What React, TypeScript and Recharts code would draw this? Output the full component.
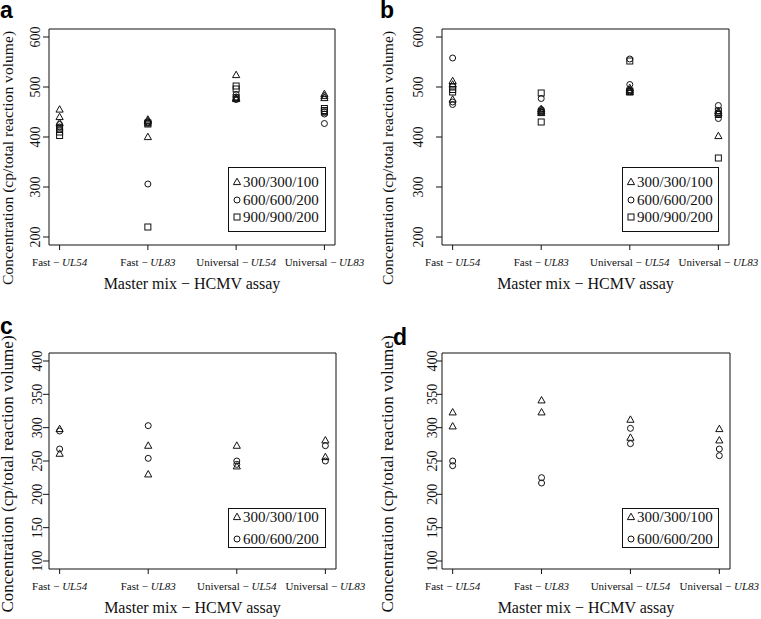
import { ScatterChart, Scatter, XAxis, YAxis, ReferenceArea, Legend } from "recharts";

// x categories: master mix + HCMV assay
const mixes = ["Fast", "Fast", "Universal", "Universal"];
const assays = ["UL54", "UL83", "UL54", "UL83"];
const seriesNames = ["300/300/100", "600/600/200", "900/900/200"];

const yTicksTop = [200, 300, 400, 500, 600];
const yTicksBottom = [100, 150, 200, 250, 300, 350, 400];

// panel a
const a300 = [[455, 440, 428], [435, 432, 400], [524, 478, 476], [486, 482, 478]];
const a600 = [[425, 420, 415], [430, 306, 428], [485, 480, 475], [450, 446, 427]];
const a900 = [[418, 410, 403], [428, 220, 426], [502, 496, 478], [457, 453, 450]];

// panel b
const b300 = [[512, 505, 475], [456, 452, 448], [498, 494, 490], [452, 448, 402]];
const b600 = [[558, 470, 465], [477, 455, 450], [556, 505, 492], [463, 447, 437]];
const b900 = [[500, 490, 495], [488, 450, 430], [552, 492, 490], [452, 445, 358]];

// panel c
const c300 = [[298, 261], [273, 230], [273, 242], [281, 256]];
const c600 = [[295, 268], [303, 254], [250, 245], [273, 250]];

// panel d
const d300 = [[323, 302], [341, 323], [312, 285], [298, 281]];
const d600 = [[250, 243], [225, 217], [299, 276], [268, 258]];

const SERIF = '"Liberation Serif", "Times New Roman", serif';
const shapes = ["triangle", "circle", "square"];

function toPoints(groups: number[][]) {
  return groups.flatMap((vals, i) => vals.map((v) => ({ x: i + 1, y: v })));
}

function Marker({ kind, cx, cy }: { kind: string; cx: number; cy: number }) {
  if (kind === "triangle") {
    return (
      <polygon
        points={`${cx},${cy - 3.8} ${cx - 3.6},${cy + 2.6} ${cx + 3.6},${cy + 2.6}`}
        fill="none"
        stroke="#111"
        strokeWidth={1}
      />
    );
  }
  if (kind === "square") {
    return <rect x={cx - 3} y={cy - 3} width={6} height={6} fill="none" stroke="#111" strokeWidth={1} />;
  }
  return <circle cx={cx} cy={cy} r={3} fill="none" stroke="#111" strokeWidth={1} />;
}

interface PanelConfig {
  letter: string;
  ox: number;
  oy: number;
  h: number;
  box: { l: number; r: number; t: number; b: number };
  yDomain: [number, number];
  yTicks: number[];
  yTickGap: number;
  series: number[][][];
  legend: { l: number; t: number; w: number; h: number; rows: number[] };
  letterPos: [number, number];
  yLabelX: number;
  yLabelMid: number;
  yLabelSize: number;
  xLabelY: number;
}

const panels: PanelConfig[] = [
  {
    letter: "a", ox: 0, oy: 0, h: 309,
    box: { l: 49, r: 335, t: 29, b: 245 },
    yDomain: [184, 616], yTicks: yTicksTop, yTickGap: 9,
    series: [a300, a600, a900],
    legend: { l: 228, t: 167, w: 98, h: 65, rows: [15, 33, 50] },
    letterPos: [0, 18], yLabelX: 13, yLabelMid: 158, yLabelSize: 15.6, xLabelY: 289,
  },
  {
    letter: "b", ox: 380, oy: 0, h: 309,
    box: { l: 442, r: 729, t: 29, b: 245 },
    yDomain: [184, 616], yTicks: yTicksTop, yTickGap: 19,
    series: [b300, b600, b900],
    legend: { l: 622, t: 167, w: 97, h: 65, rows: [15, 33, 50] },
    letterPos: [380, 18], yLabelX: 393, yLabelMid: 158, yLabelSize: 15.6, xLabelY: 289,
  },
  {
    letter: "c", ox: 0, oy: 309, h: 310,
    box: { l: 49, r: 336, t: 353, b: 569 },
    yDomain: [88, 412], yTicks: yTicksBottom, yTickGap: 7,
    series: [c300, c600],
    legend: { l: 228, t: 508, w: 98, h: 40, rows: [9, 31] },
    letterPos: [0, 334], yLabelX: 13, yLabelMid: 474, yLabelSize: 17, xLabelY: 613,
  },
  {
    letter: "d", ox: 380, oy: 309, h: 310,
    box: { l: 442, r: 730, t: 353, b: 569 },
    yDomain: [88, 412], yTicks: yTicksBottom, yTickGap: 5,
    series: [d300, d600],
    legend: { l: 622, t: 508, w: 97, h: 40, rows: [9, 31] },
    letterPos: [393, 345], yLabelX: 393, yLabelMid: 474, yLabelSize: 17, xLabelY: 613,
  },
];

function Panel({ p }: { p: PanelConfig }) {
  const W = 380;
  const bl = p.box.l - p.ox;
  const br = p.box.r - p.ox;
  const bb = p.box.b - p.oy;
  const bt = p.box.t - p.oy;
  const xDomain: [number, number] = [0.88, 4.12];
  const yMid = p.yLabelMid - p.oy;

  const xTick = (props: any) => {
    const i = props.payload.value - 1;
    return (
      <text x={props.x} y={bb + 21} textAnchor="middle" fontFamily={SERIF} fontSize={11} fill="#111">
        <tspan>{mixes[i]} − </tspan>
        <tspan fontStyle="italic">{assays[i]}</tspan>
      </text>
    );
  };

  const yTick = (props: any) => {
    const x = bl - p.yTickGap;
    return (
      <text
        x={x}
        y={props.y}
        transform={`rotate(-90, ${x}, ${props.y})`}
        textAnchor="middle"
        fontFamily={SERIF}
        fontSize={14}
        fill="#111"
      >
        {props.payload.value}
      </text>
    );
  };

  const yTitle = () => {
    const x = p.yLabelX - p.ox;
    return (
      <g>
        <text
          x={p.letterPos[0] - p.ox}
          y={p.letterPos[1] - p.oy}
          fontFamily='"Liberation Sans", Arial, sans-serif'
          fontWeight="bold"
          fontSize={23}
          fill="#000"
        >
          {p.letter}
        </text>
        <text
          x={x}
          y={yMid}
          transform={`rotate(-90, ${x}, ${yMid})`}
          textAnchor="middle"
          fontFamily={SERIF}
          fontSize={p.yLabelSize}
          fill="#111"
        >
          Concentration (cp/total reaction volume)
        </text>
      </g>
    );
  };

  const xTitle = () => (
    <text x={(bl + br) / 2} y={p.xLabelY - p.oy} textAnchor="middle" fontFamily={SERIF} fontSize={16} fill="#111">
      Master mix − HCMV assay
    </text>
  );

  const legendContent = (props: any) => {
    const items = props.payload || [];
    const lg = p.legend;
    return (
      <svg width={lg.w} height={lg.h} style={{ display: "block" }}>
        <rect x={0.5} y={0.5} width={lg.w - 1} height={lg.h - 1} fill="#fff" stroke="#111" strokeWidth={1} />
        {items.map((it: any, k: number) => (
          <g key={it.value}>
            <Marker kind={shapes[seriesNames.indexOf(it.value)]} cx={9} cy={lg.rows[k]} />
            <text x={15} y={lg.rows[k] + 5} fontFamily={SERIF} fontSize={15} fill="#111">
              {it.value}
            </text>
          </g>
        ))}
      </svg>
    );
  };

  return (
    <div style={{ position: "absolute", left: p.ox, top: p.oy }}>
      <ScatterChart width={W} height={p.h} margin={{ top: bt, right: W - br, left: 0, bottom: 0 }}>
        <XAxis
          type="number"
          dataKey="x"
          domain={xDomain}
          ticks={[1, 2, 3, 4]}
          axisLine={false}
          tickSize={5}
          tickLine={{ stroke: "#111" }}
          tick={xTick}
          height={p.oy + p.h - p.box.b}
          interval={0}
          allowDataOverflow
          label={xTitle}
        />
        <YAxis
          type="number"
          dataKey="y"
          domain={p.yDomain}
          ticks={p.yTicks}
          axisLine={false}
          tickSize={6}
          tickLine={{ stroke: "#111" }}
          tick={yTick}
          width={bl}
          interval={0}
          allowDataOverflow
          label={yTitle}
        />
        <ReferenceArea
          x1={xDomain[0]}
          x2={xDomain[1]}
          y1={p.yDomain[0]}
          y2={p.yDomain[1]}
          fill="none"
          fillOpacity={0}
          stroke="#111"
          strokeWidth={1}
          ifOverflow="visible"
        />
        {p.series.map((s, k) => (
          <Scatter
            key={seriesNames[k]}
            name={seriesNames[k]}
            data={toPoints(s)}
            isAnimationActive={false}
            shape={(sp: any) => <Marker kind={shapes[k]} cx={sp.cx} cy={sp.cy} />}
          />
        ))}
        <Legend
          layout="vertical"
          align="center"
          verticalAlign="middle"
          wrapperStyle={{ left: p.legend.l - p.ox, top: p.legend.t - p.oy, width: p.legend.w, height: p.legend.h }}
          content={legendContent}
        />
      </ScatterChart>
    </div>
  );
}

export default function App() {
  return (
    <div style={{ position: "absolute", left: 0, top: 0, width: 761, height: 619, background: "#fff" }}>
      {panels.map((p) => (
        <Panel key={p.letter} p={p} />
      ))}
    </div>
  );
}
